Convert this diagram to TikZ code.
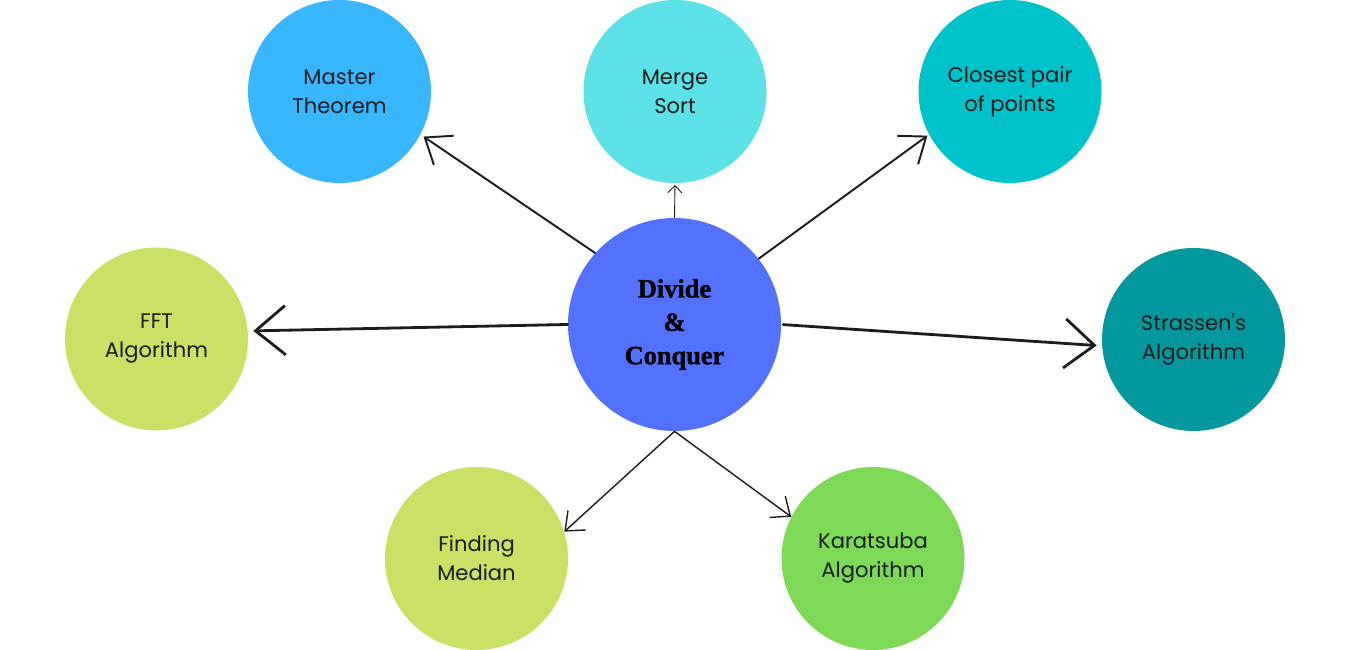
\documentclass[tikz,border=0pt]{standalone}
\usepackage{fontspec}
\setmainfont{Poppins}
\newfontfamily\headfont{Liberation Serif}[BoldFeatures={FakeBold=1.4}]
\usetikzlibrary{arrows.meta}

\definecolor{hubblue}{HTML}{5271FF}
\definecolor{skyblue}{HTML}{38B6FF}
\definecolor{lightcyan}{HTML}{5CE1E6}
\definecolor{deepcyan}{HTML}{00C2CB}
\definecolor{limegreen}{HTML}{C9E265}
\definecolor{darkteal}{HTML}{03989E}
\definecolor{leafgreen}{HTML}{7ED957}
\definecolor{inkblack}{HTML}{1C1C1C}

\tikzset{
	topic/.style={circle, minimum size=3.66cm, inner sep=0pt, align=center,
		font=\fontsize{12}{16.5}\selectfont, text=inkblack},
	hub/.style={circle, minimum size=4.26cm, inner sep=0pt, align=center, fill=hubblue,
		font=\headfont\bfseries\fontsize{15}{19}\selectfont, text=black},
	sketch/.style={draw=inkblack, line cap=round, line join=round}
}

\begin{document}
\begin{tikzpicture}
			%%%%% START %%%%%
			\useasboundingbox (0, 0) rectangle (27, 13);
			
			\node[hub] (dc) at (13.49, 6.51) {Divide\\\&\\Conquer};
			
			\node[topic, fill=skyblue] (mt) at (6.79, 11.17) {Master\\Theorem};
			\node[topic, fill=lightcyan] (ms) at (13.5, 11.17) {Merge\\Sort};
			\node[topic, fill=deepcyan] (cp) at (20.2, 11.17) {Closest pair\\of points};
			
			\node[topic, fill=limegreen] (fft) at (3.13, 6.22) {FFT\\Algorithm};
			\node[topic, fill=darkteal] (st) at (23.87, 6.21) {Strassen\textquotesingle s\\Algorithm};
			
			\node[topic, fill=limegreen] (fm) at (9.53, 1.83) {Finding\\Median};
			\node[topic, fill=leafgreen] (ka) at (17.46, 1.83) {Karatsuba\\Algorithm};
			
			% upper row
			\draw[sketch, line width=1.1pt, -{Straight Barb[length=13pt, width=20pt]}, shorten >=2pt] (dc.138) -- (mt.332);
			\draw[sketch, line width=0.5pt, -{Straight Barb[length=4pt, width=8pt]}, shorten >=1pt] (dc.north) -- (ms.south);
			\draw[sketch, line width=1.1pt, -{Straight Barb[length=13pt, width=20pt]}, shorten >=1pt] (dc.38) -- (cp.208);
			
			% sides
			\draw[sketch, line width=1.6pt, -{Straight Barb[length=17pt, width=28pt]}, shorten >=3pt] (dc.west) -- (fft.5);
			\draw[sketch, line width=1.6pt, -{Straight Barb[length=17pt, width=28pt]}, shorten >=3pt, shorten <=1pt] (dc.east) -- (st.184);
			
			% lower row
			\draw[sketch, line width=0.8pt, -{Straight Barb[length=9pt, width=15pt]}] (dc.south) -- (fm.17);
			\draw[sketch, line width=0.8pt, -{Straight Barb[length=9pt, width=15pt]}] (dc.south) -- (ka.153);
			
			%%%%% END %%%%%
		\end{tikzpicture}
\end{document}
